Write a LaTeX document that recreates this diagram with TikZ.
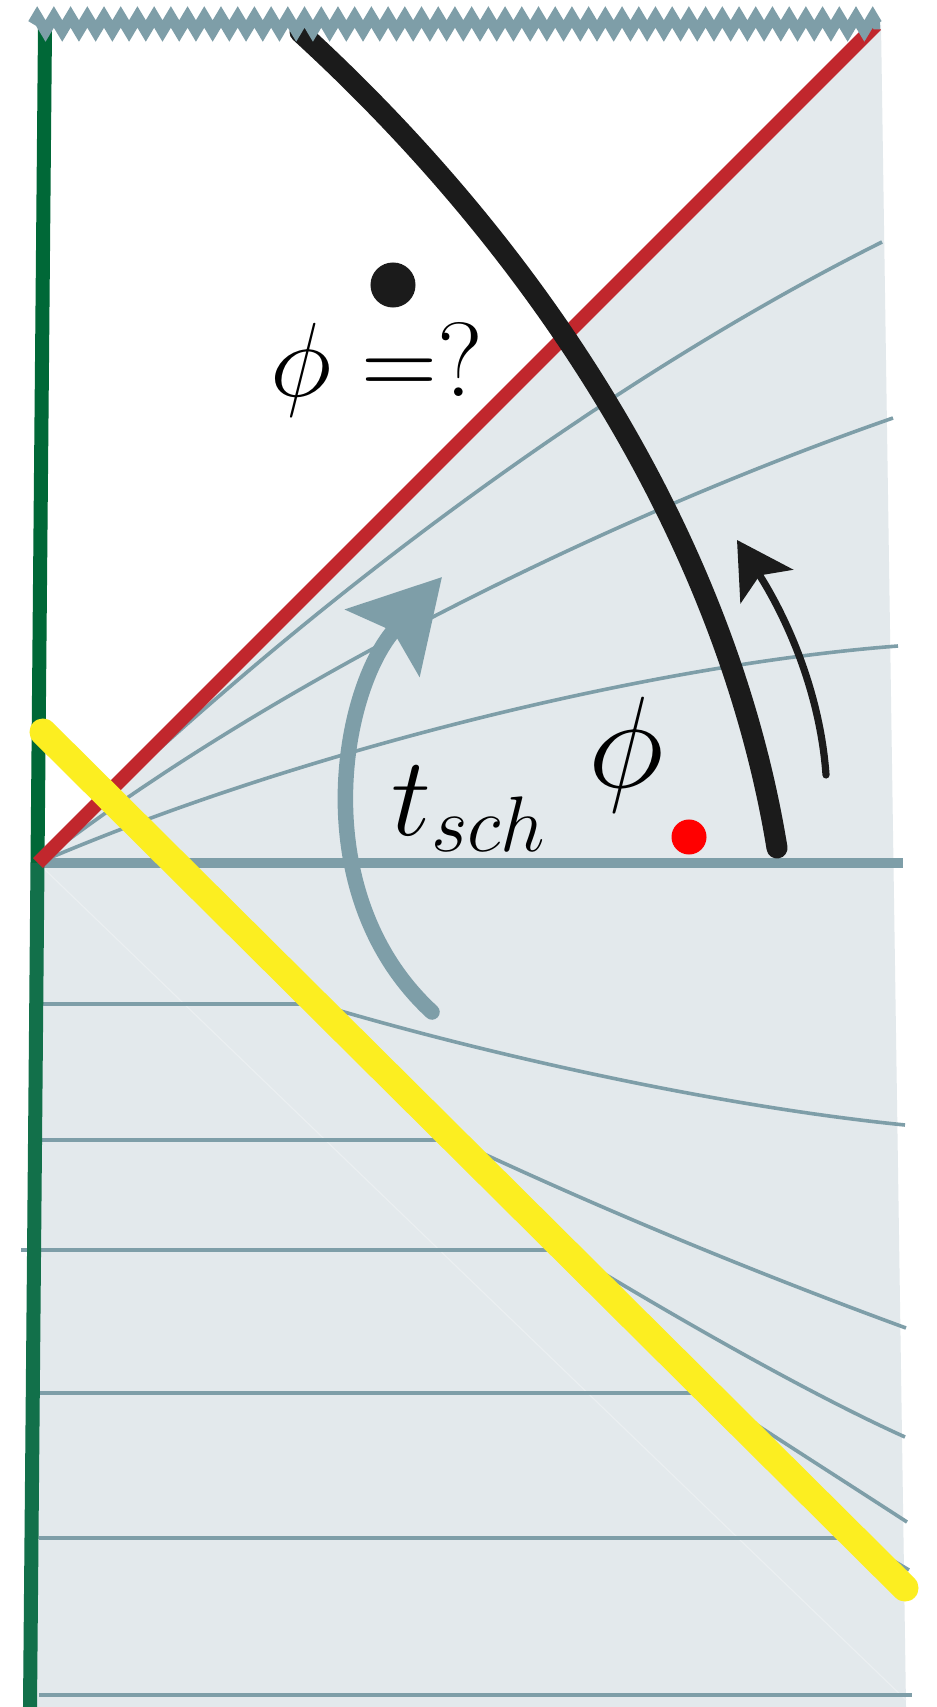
\RequirePackage{fix-cm}
\documentclass[tikz,border=0pt]{standalone}
\usetikzlibrary{arrows.meta,decorations.pathmorphing}
\definecolor{bgshade}{HTML}{E3E9EC}
\definecolor{slate}{HTML}{7E9EA8}
\definecolor{dgreen}{HTML}{006837}
\definecolor{dgreenb}{HTML}{12704A}
\definecolor{hred}{HTML}{C1272D}
\definecolor{ink}{HTML}{1B1B1B}
\definecolor{shell}{HTML}{FCEE21}
\definecolor{seam}{HTML}{EBEFF1}
\begin{document}
\begin{tikzpicture}[x=0.01cm,y=-0.01cm,
  thinline/.style={draw=slate,line width=0.036cm},
  horizonline/.style={draw=slate,line width=0.1cm},
  redline/.style={draw=hred,line width=0.14cm},
  greenline/.style={line width=0.14cm},
  worldline/.style={draw=ink,line width=0.21cm,line cap=round},
  flowarrow/.style={draw=ink,line width=0.072cm,line cap=round,-{Stealth[length=0.55cm,width=0.62cm,inset=0.13cm]}},
  timearrow/.style={draw=slate,line width=0.155cm,line cap=round,-{Stealth[length=0.88cm,width=0.98cm,inset=0.15cm]}},
  shellline/.style={draw=shell,line width=0.27cm,line cap=round},
  singularity/.style={draw=slate,line width=0.11cm,decorate,decoration={zigzag,segment length=0.167cm,amplitude=0.07cm}},
  label/.style={anchor=base west,inner sep=0pt}]
\useasboundingbox (0,0) rectangle (936,1707);
\fill[white] (0,0) rectangle (936,1707);
% key points
\coordinate (O) at (38,863);
\coordinate (Rtop) at (876,25);
\coordinate (Htop) at (881,25);
\coordinate (Hbot) at (906,1707);
\coordinate (Lbot) at (30,1707);
\coordinate (G1) at (45,28);
\coordinate (Gm) at (37.5,863);
\coordinate (G2) at (30,1707);
% shaded region
\fill[bgshade] (O) -- (Rtop) -- (Htop) -- (Hbot) -- (Lbot) -- cycle;
\draw[seam,line width=0.012cm] (O) -- (906,1700);
% upper slices
\draw[thinline] (O) .. controls (323,583) and (632,367) .. (882,242);
\draw[thinline] (O) .. controls (260,690) and (600,520) .. (893,418);
\draw[thinline] (O) .. controls (293,753) and (648,665) .. (898,646);
% lower slices
\draw[thinline] (37,1004) -- (317,1004) .. controls (467,1049) and (705,1105) .. (905,1125);
\draw[thinline] (33,1140) -- (454,1140) .. controls (603,1210) and (756,1273) .. (906,1328);
\draw[thinline] (21,1250) -- (565,1250) .. controls (663,1310) and (805,1392) .. (905,1437);
\draw[thinline] (39,1393) -- (709,1393) .. controls (748,1420) and (830,1472) .. (907,1522);
\draw[thinline] (39,1538) -- (855,1538) -- (909,1570);
\draw[thinline] (39,1695) -- (912,1695);
% horizon slice
\draw[horizonline] (O) -- (903,863);
% boundaries
\draw[greenline,dgreen] (G1) -- (Gm);
\draw[greenline,dgreenb] (Gm) -- (G2);
\draw[redline] (O) -- (Rtop);
% worldline and arrows
\draw[worldline] (300,32) .. controls (560,270) and (730,560) .. (777,848);
\draw[flowarrow] (826,775) .. controls (820,690) and (785,615) .. (737,540);
\draw[timearrow] (432,1012) .. controls (305,895) and (340,690) .. (442,577);
% dots
\fill[ink] (393,285) circle[radius=0.225cm];
\fill[red] (689,837) circle[radius=0.175cm];
% labels
\node[label,font=\fontsize{30}{36}\selectfont] (qphi) at (270,397) {$\phi =?$};
\node[label,font=\fontsize{32}{38}\selectfont] (tsch) at (391,835) {$t_{sch}$};
\node[label,font=\fontsize{37}{44}\selectfont] (bphi) at (588,787) {$\phi$};
% shell
\draw[shellline] (43,732) -- (905,1588);
% singularity
\draw[singularity] (33,24) -- (880,24);
\end{tikzpicture}
\end{document}
